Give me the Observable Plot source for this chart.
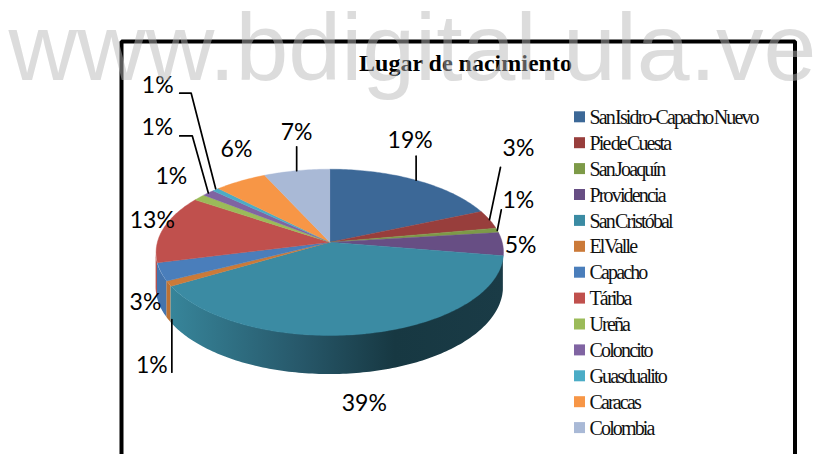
<!DOCTYPE html>
<html lang="es">
<head>
<meta charset="utf-8">
<script src="https://cdn.jsdelivr.net/npm/d3@7"></script>
<script src="https://cdn.jsdelivr.net/npm/@observablehq/plot@0.6"></script>
<style>
html,body{margin:0;padding:0;background:#fff;overflow:hidden}
.legend-text text{letter-spacing:-1.85px;word-spacing:-2px}
</style>
</head>
<body>
<div id="chart"></div>
<script>
const chartTitle = "Lugar de nacimiento";
const watermark = "www.bdigital.ula.ve";
const places = ["San Isidro-Capacho Nuevo","Pie de Cuesta","San Joaquín","Providencia","San Cristóbal","El Valle","Capacho","Táriba","Ureña","Coloncito","Guasdualito","Caracas","Colombia"];
const shares = [18.6,3.6,0.9,4.5,39,1,3.5,13.2,1.3,1.3,0.7,5.5,6.9];
const percentLabels = ["19%","3%","1%","5%","39%","1%","3%","13%","1%","1%","1%","6%","7%"];
const sliceColors = ["#3c6897","#983e3c","#7d9a48","#674e84","#3b8ba3","#cb7a39","#4a7ebb","#c0504d","#9bbb59","#8064a2","#4bacc6","#f79646","#a9b9d6"];

// layout, not data
const labelDx = [-6,29,21,18,-1,-17,-15.5,-11,-28,-51,-58,-4,0];
const labelDy = [-40,-71,-30,1.5,70,82,30.6,-8,-21,-65,-104,-31.5,-38];
const leaders = {
  0:[[0,0],[0,-24]],
  1:[[0,0],[11,-52.4]],
  2:[[0,0],[4,-20.6]],
  5:[[3,36],[3,88.6]],
  9:[[0,0],[-16,-57],[-28.6,-57]],
  10:[[0,-1],[-24.5,-96.5],[-36,-96.5]],
  12:[[0,0],[0,-24]]
};
const cx = 329.3, cy = 241.7, A = 172.4, B = 81.9, k = 0.122, D = 34.3;
const rim = deg => {
  const t = deg * Math.PI / 180, u = Math.sin(t), v = Math.cos(t), d = 1 + k * v;
  return {x: cx + A * u / d, y: cy - B * v / d, d};
};

const total = d3.sum(shares);
let run = 0;
const slices = places.map((name,i) => {
  const start = run / total * 360; run += shares[i];
  const end = run / total * 360;
  return {name, i, start, end, mid:(start+end)/2, color:sliceColors[i]};
});

// top faces
const topFaces = slices.flatMap(s => {
  const n = Math.max(2, Math.ceil(s.end - s.start));
  const pts = d3.range(n+1).map(j => rim(s.start + (s.end-s.start)*j/n));
  return [{x:cx,y:cy},...pts,{x:cx,y:cy}].map(p => ({x:p.x,y:p.y,name:s.name,color:s.color}));
});

// side wall: one band per slice along the visible front rim
const wall = slices.flatMap(s => {
  const a = Math.max(s.start,96), b = Math.min(s.end,264);
  if (b <= a) return [];
  const n = Math.max(2, Math.ceil(b-a));
  return d3.range(n+1).map(j => {
    const p = rim(a+(b-a)*j/n);
    return {name:s.name,i:s.i,color:d3.color(s.color).darker(0.22).formatHex(),x:p.x,y1:p.y,y2:p.y+D/p.d};
  });
});

const labels = slices.map(s => {
  const p = rim(s.mid);
  return {text:percentLabels[s.i], x:p.x+labelDx[s.i], y:p.y+labelDy[s.i]};
});
const leaderPts = Object.entries(leaders).flatMap(([i,pts]) => {
  const p = rim(slices[+i].mid);
  return pts.map(o => ({id:i,x:p.x+o[0],y:p.y+o[1]}));
});
const legendRows = slices.map(s => ({
  name:s.name,color:s.color,x1:574,x2:585,y1:111.3+s.i*25.9,y2:122.3+s.i*25.9,ty:117+s.i*25.9
}));
const frameLine = [{x:121,y:454},{x:121,y:41},{x:794.5,y:41},{x:794.5,y:454}];

const wallGradient = (index,{x}) => {
  const defs = d3.create("svg:defs");
  const g = defs.append("linearGradient").attr("id","sideShade").attr("gradientUnits","userSpaceOnUse")
    .attr("x1",x(170)).attr("x2",x(503)).attr("y1",0).attr("y2",0);
  [[0,"#37859a"],[0.39,"#27586a"],[0.675,"#173842"],[1,"#1a3b46"]].forEach(([o,c]) =>
    g.append("stop").attr("offset",o).attr("stop-color",c));
  return defs.node();
};

const chart = Plot.plot({
  width:815,height:454,margin:0,
  x:{domain:[0,815],range:[0,815],axis:null},
  y:{domain:[0,454],range:[0,454],axis:null},
  color:{type:"identity"},
  style:{background:"#fff",overflow:"hidden"},
  marks:[
    wallGradient,
    Plot.line(frameLine,{x:"x",y:"y",stroke:"#000",strokeWidth:4,strokeLinejoin:"miter"}),
    Plot.text([chartTitle],{x:()=>465,y:()=>63,text:d=>d,fontFamily:"Liberation Serif",fontWeight:"bold",fontSize:24,fill:"#000"}),
    Plot.area(wall.filter(d=>d.i!==4),{x1:"x",y1:"y1",y2:"y2",z:"name",fill:"color"}),
    Plot.area(wall.filter(d=>d.i===4),{x1:"x",y1:"y1",y2:"y2",fill:"url(#sideShade)"}),
    Plot.line(topFaces,{x:"x",y:"y",z:"name",fill:"color",stroke:"color",strokeWidth:0.4}),
    Plot.line(leaderPts,{x:"x",y:"y",z:"id",stroke:"#000",strokeWidth:1.7}),
    Plot.text(labels,{x:"x",y:"y",text:"text",fontFamily:"Lato",fontSize:23,fill:"#000"}),
    Plot.rect(legendRows,{x1:"x1",x2:"x2",y1:"y1",y2:"y2",fill:"color"}),
    Plot.text(legendRows,{x:()=>589,y:"ty",text:"name",textAnchor:"start",fontFamily:"Liberation Serif",fontSize:20,fill:"#111",className:"legend-text"}),
    Plot.text([watermark],{x:()=>8,y:()=>48.6,text:d=>d,textAnchor:"start",fontFamily:"Liberation Sans",fontSize:95,fill:"#b8b8b8",fillOpacity:0.49})
  ]
});
document.getElementById("chart").appendChild(chart);
</script>
</body>
</html>
